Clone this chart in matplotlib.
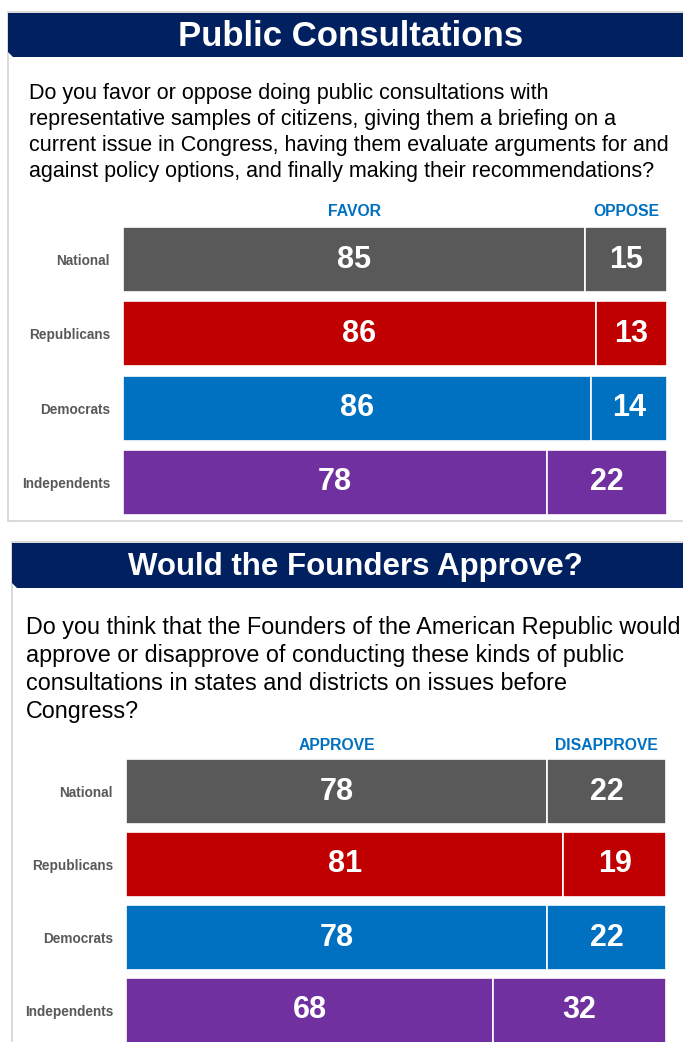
import matplotlib
matplotlib.use("Agg")
import matplotlib.pyplot as plt
from matplotlib.patches import Polygon, Rectangle
from matplotlib.transforms import blended_transform_factory

plt.rcParams["font.family"] = ["Liberation Sans", "DejaVu Sans"]

# ---- data ----
groups = ["National", "Republicans", "Democrats", "Independents"]
group_colors = ["#595959", "#C00000", "#0070C0", "#7030A0"]

q1_title = "Public Consultations"
q1_text = [
    "Do you favor or oppose doing public consultations with",
    "representative samples of citizens, giving them a briefing on a",
    "current issue in Congress, having them evaluate arguments for and",
    "against policy options, and finally making their recommendations?",
]
q1_answers = ["FAVOR", "OPPOSE"]
q1_favor = [85, 86, 86, 78]
q1_oppose = [15, 13, 14, 22]

q2_title = "Would the Founders Approve?"
q2_text = [
    "Do you think that the Founders of the American Republic would",
    "approve or disapprove of conducting these kinds of public",
    "consultations in states and districts on issues before",
    "Congress?",
]
q2_answers = ["APPROVE", "DISAPPROVE"]
q2_approve = [78, 81, 78, 68]
q2_disapprove = [22, 19, 22, 32]

W, H = 683, 1042
NAVY = "#002060"
HEADER_BLUE = "#0070C0"
BORDER = "#D3D3D3"

fig = plt.figure(figsize=(W / 100, H / 100), dpi=100)
bg = fig.add_axes([0, 0, 1, 1])
bg.set_xlim(0, W)
bg.set_ylim(H, 0)
bg.axis("off")


def banner(x0, y0, y1, title, cx, size):
    bg.add_patch(Polygon([(x0, y0), (W + 5, y0), (W + 5, y1), (x0 + 5, y1), (x0, y1 - 5)],
                         closed=True, facecolor=NAVY, edgecolor="none", zorder=2))
    bg.text(cx, (y0 + y1) / 2 + 1, title, color="white", fontsize=size, fontweight="bold",
            ha="center", va="center", zorder=3)


# panel frames
bg.add_patch(Rectangle((8, 12), W + 10, 509, facecolor="white", edgecolor=BORDER, lw=1.2, zorder=1))
bg.add_patch(Rectangle((12, 542), W + 10, 600, facecolor="white", edgecolor=BORDER, lw=1.2, zorder=1))

banner(8, 13, 57, q1_title, 351, 25)
banner(12, 543, 588, q2_title, 355, 22.5)

# question text
for i, line in enumerate(q1_text):
    bg.text(29, 99 + i * 26, line, fontsize=15.5, color="black", ha="left", va="baseline")
for i, line in enumerate(q2_text):
    bg.text(26, 634 + i * 28, line, fontsize=16.8, color="black", ha="left", va="baseline")


def stacked_panel(left, right, first_top, spacing, bar_h, first, second, answers, header_y):
    gap = (spacing - bar_h) / 2
    top = first_top - gap
    bottom = top + len(groups) * spacing
    ax = fig.add_axes([left / W, 1 - bottom / H, (right - left) / W, (bottom - top) / H])
    totals = [a + b for a, b in zip(first, second)]
    s1 = [a / t * 100 for a, t in zip(first, totals)]
    s2 = [b / t * 100 for b, t in zip(second, totals)]
    ypos = list(range(len(groups)))
    h = bar_h / spacing
    b1 = ax.barh(ypos, s1, height=h, color=group_colors, edgecolor="white", linewidth=1.2)
    b2 = ax.barh(ypos, s2, left=s1, height=h, color=group_colors, edgecolor="white", linewidth=1.2)
    ax.bar_label(b1, labels=[str(v) for v in first], label_type="center",
                 color="white", fontsize=22, fontweight="bold")
    ax.bar_label(b2, labels=[str(v) for v in second], label_type="center",
                 color="white", fontsize=22, fontweight="bold")
    ax.set_xlim(0, 100)
    ax.set_ylim(len(groups) - 0.5, -0.5)
    ax.set_yticks(ypos)
    ax.set_yticklabels(groups, fontsize=9.8, fontweight="bold", color="#595959")
    ax.tick_params(axis="y", length=0, pad=9.4)
    ax.set_xticks([])
    for sp in ax.spines.values():
        sp.set_visible(False)
    ax.patch.set_alpha(0)
    # answer headers above the first row
    tr = blended_transform_factory(ax.transData, bg.transData)
    ax.text(s1[0] / 2, header_y, answers[0], transform=tr,
            color=HEADER_BLUE, fontsize=11.3, fontweight="bold", ha="center", va="center")
    ax.text(s1[0] + s2[0] / 2, header_y, answers[1], transform=tr,
            color=HEADER_BLUE, fontsize=11.3, fontweight="bold", ha="center", va="center")
    return ax


stacked_panel(123, 667, 227, 74.33, 65, q1_favor, q1_oppose, q1_answers, 211)
stacked_panel(126, 666, 759, 73, 65, q2_approve, q2_disapprove, q2_answers, 746)

fig.savefig("out.png", dpi=100)
